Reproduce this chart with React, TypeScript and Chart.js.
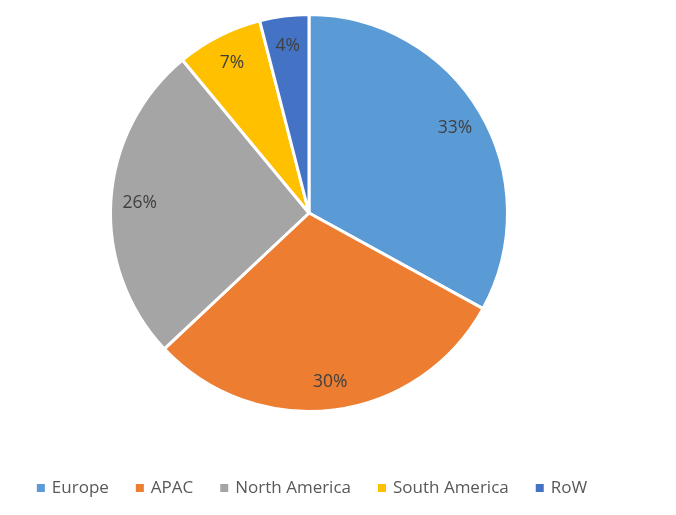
import React, { useEffect, useRef } from "react";
import { Chart, registerables } from "chart.js";

Chart.register(...registerables);

const regions = ["Europe", "APAC", "North America", "South America", "RoW"];
const shares = [33, 30, 26, 7, 4];
const colors = ["#5B9BD5", "#ED7D31", "#A5A5A5", "#FFC000", "#4472C4"];

const FONT = "'Open Sans', sans-serif";

const labelPlugin = {
  id: "sliceLabels",
  afterDatasetsDraw(chart: any) {
    const ctx = chart.ctx;
    const meta = chart.getDatasetMeta(0);
    ctx.save();
    ctx.font = `17.5px ${FONT}`;
    ctx.fillStyle = "#404040";
    ctx.textAlign = "center";
    ctx.textBaseline = "middle";
    meta.data.forEach((arc: any, i: number) => {
      const { x, y, startAngle, endAngle, outerRadius } = arc.getProps(
        ["x", "y", "startAngle", "endAngle", "outerRadius"],
        true
      );
      const mid = (startAngle + endAngle) / 2;
      const r = outerRadius * 0.855;
      ctx.fillText(`${shares[i]}%`, x + Math.cos(mid) * r, y + Math.sin(mid) * r + 1);
    });
    ctx.restore();
  },
};

const legendPlugin = {
  id: "customLegend",
  afterDraw(chart: any) {
    const ctx = chart.ctx;
    ctx.save();
    ctx.font = `17px ${FONT}`;
    ctx.textBaseline = "middle";
    ctx.textAlign = "left";
    const box = 8;
    const boxGap = 7;
    const itemGap = 27;
    const widths = regions.map((r) => box + boxGap + ctx.measureText(r).width);
    const total = widths.reduce((a, b) => a + b, 0) + itemGap * (regions.length - 1);
    let x = 312 - total / 2;
    const cy = 488;
    regions.forEach((r, i) => {
      ctx.fillStyle = colors[i];
      ctx.fillRect(x, cy - box / 2, box, box);
      ctx.fillStyle = "#595959";
      ctx.fillText(r, x + box + boxGap, cy);
      x += widths[i] + itemGap;
    });
    ctx.restore();
  },
};

export default function App() {
  const ref = useRef<HTMLCanvasElement>(null);
  useEffect(() => {
    if (!ref.current) return;
    const chart = new Chart(ref.current, {
      type: "pie",
      data: {
        labels: regions,
        datasets: [
          {
            data: shares,
            backgroundColor: colors,
            borderColor: "#ffffff",
            borderWidth: 3,
          },
        ],
      },
      options: {
        responsive: false,
        animation: false,
        layout: { padding: { left: 109, right: 167, top: 13, bottom: 102 } },
        plugins: {
          legend: { display: false },
          tooltip: { enabled: false },
        },
      },
      plugins: [labelPlugin, legendPlugin],
    });
    return () => chart.destroy();
  }, []);
  return (
    <div style={{ position: "absolute", left: 0, top: 0, width: 676, height: 515, background: "#fff" }}>
      <canvas ref={ref} width={676} height={515} />
    </div>
  );
}
